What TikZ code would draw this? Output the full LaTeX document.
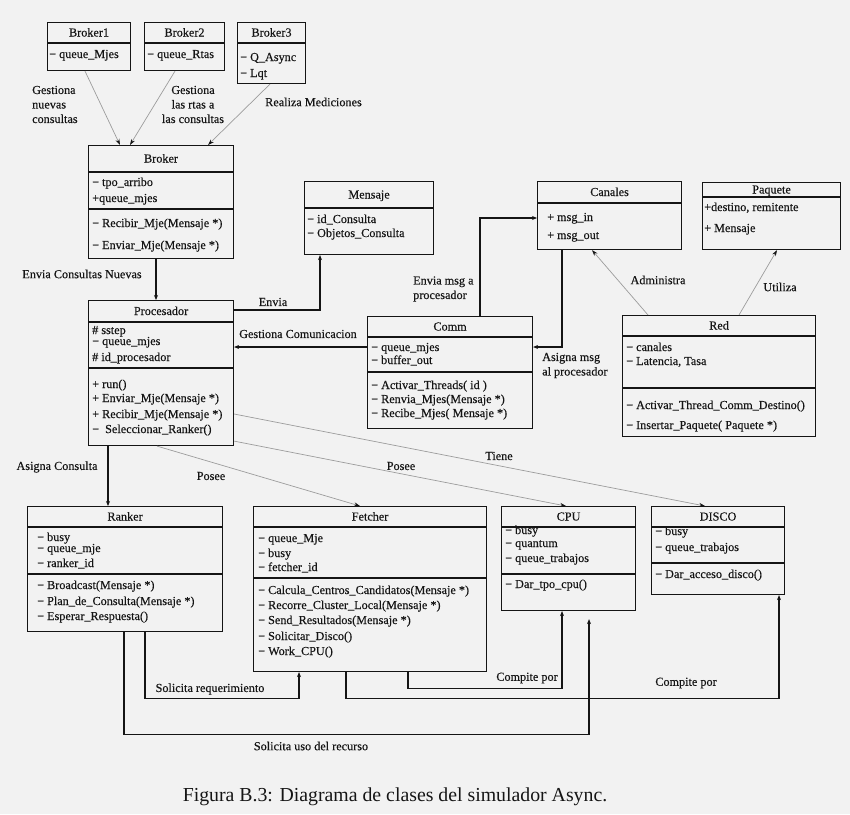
\documentclass[tikz,border=0pt]{standalone}
\usepackage{fontspec}
\setmainfont{Liberation Serif}
\newfontfamily\diafont{Liberation Serif}[FakeBold=0.3]
\usepackage{tikz}
\usetikzlibrary{arrows.meta, calc}
\definecolor{ink}{HTML}{151515}
\definecolor{paper}{HTML}{F2F2F2}
\definecolor{wire}{HTML}{9C9C9C}

% class box: name, x, y, width, height, first rule, title
\newcommand{\cls}[7]{%
  \node[box, minimum width=#4pt, minimum height=#5pt] (#1) at (#2,#3) {};
  \node[ttl] (#1-t) at ($(#1.north)+(0,{#6/2+1})$) {#7};
  \draw[rule] ($(#1.north west)+(0,#6)$) -- ($(#1.north east)+(0,#6)$);}
\newcommand{\sep}[2]{%
  \draw[rule] ($(#1.north west)+(0,#2)$) -- ($(#1.north east)+(0,#2)$);}
\newcommand{\rows}[3]{%
  \foreach \dy/\txt in {#3}{
    \node[row] (#1-r\dy) at ($(#1.north west)+(#2,\dy)$) {\txt};
  }}

\begin{document}
\begin{tikzpicture}[x=1pt, y=-1pt,
  box/.style={draw=ink, line width=1.1pt, inner sep=0pt, anchor=north west},
  rule/.style={draw=ink, line width=1.1pt},
  ttl/.style={font=\diafont\fontsize{12.2}{13}\selectfont, text=ink, inner sep=0pt,
    text height=8pt, text depth=2pt},
  row/.style={ttl, anchor=west},
  lbl/.style={font=\diafont\fontsize{12.2}{14.5}\selectfont, text=ink, inner sep=0pt},
  flow/.style={draw=ink, line width=1.1pt, -{Stealth[length=5pt, width=4pt]}},
  thin/.style={draw=wire, line width=0.7pt, -{Stealth[length=6pt, width=4pt, ink]}}]

  \fill[paper] (0,0) rectangle (850,814);
  \useasboundingbox (0,0) rectangle (850,814);

  % classes
  \cls{broker1}{47}{22}{83}{48}{21}{Broker1}
  \rows{broker1}{2}{33/{− queue\_Mjes}}
  \cls{broker2}{144}{22}{80}{48}{21}{Broker2}
  \rows{broker2}{3}{33/{− queue\_Rtas}}
  \cls{broker3}{237}{22}{68}{61}{21}{Broker3}
  \rows{broker3}{3}{36/{− Q\_Async}, 52/{− Lqt}}

  \cls{broker}{88}{145}{145}{113}{27}{Broker}
  \sep{broker}{64}
  \rows{broker}{4}{38/{− tpo\_arribo}, 54/{+queue\_mjes},
    79/{− Recibir\_Mje(Mensaje *)}, 101/{− Enviar\_Mje(Mensaje *)}}

  \cls{mensaje}{304}{181}{129}{73}{27}{Mensaje}
  \rows{mensaje}{3}{39/{− id\_Consulta}, 53/{− Objetos\_Consulta}}

  \cls{canales}{537}{181}{144}{68}{22}{Canales}
  \rows{canales}{10}{37/{+ msg\_in}, 55/{+ msg\_out}}

  \cls{paquete}{702}{182}{138}{67}{15}{Paquete}
  \rows{paquete}{2}{26/{+destino, remitente}, 47/{+ Mensaje}}

  \cls{procesador}{88}{300}{145}{145}{22}{Procesador}
  \sep{procesador}{68}
  \rows{procesador}{4}{31/{\# sstep}, 42/{− queue\_mjes}, 58/{\# id\_procesador},
    85/{+ run()}, 99/{+ Enviar\_Mje(Mensaje *)}, 115/{+ Recibir\_Mje(Mensaje *)},
    130/{−\enspace Seleccionar\_Ranker()}}

  \cls{comm}{367}{316}{165}{112}{21}{Comm}
  \sep{comm}{56}
  \rows{comm}{4}{32/{− queue\_mjes}, 45/{− buffer\_out},
    70/{− Activar\_Threads( id )}, 84/{− Renvia\_Mjes(Mensaje *)},
    98/{− Recibe\_Mjes( Mensaje *)}}

  \cls{red}{622}{315}{193}{121}{21}{Red}
  \sep{red}{73}
  \rows{red}{4}{33/{− canales}, 47/{− Latencia, Tasa},
    91/{− Activar\_Thread\_Comm\_Destino()}, 111/{− Insertar\_Paquete( Paquete *)}}

  \cls{ranker}{27}{506}{195}{125}{21}{Ranker}
  \sep{ranker}{68}
  \rows{ranker}{10}{32/{− busy}, 43/{− queue\_mje}, 58/{− ranker\_id},
    80/{− Broadcast(Mensaje *)}, 96/{− Plan\_de\_Consulta(Mensaje *)},
    111/{− Esperar\_Respuesta()}}

  \cls{fetcher}{253}{506}{233}{165}{21}{Fetcher}
  \sep{fetcher}{72}
  \rows{fetcher}{5}{33/{− queue\_Mje}, 48/{− busy}, 62/{− fetcher\_id},
    85/{− Calcula\_Centros\_Candidatos(Mensaje *)},
    100/{− Recorre\_Cluster\_Local(Mensaje *)},
    115/{− Send\_Resultados(Mensaje *)}, 131/{− Solicitar\_Disco()},
    146/{− Work\_CPU()}}

  \cls{cpu}{501}{506}{134}{104}{21}{CPU}
  \sep{cpu}{68}
  \rows{cpu}{4}{25/{− busy}, 38/{− quantum}, 53/{− queue\_trabajos},
    79/{− Dar\_tpo\_cpu()}}

  \cls{disco}{651}{506}{133}{88}{21}{DISCO}
  \sep{disco}{57}
  \rows{disco}{4}{26/{− busy}, 42/{− queue\_trabajos}, 69/{− Dar\_acceso\_disco()}}

  % associations
  \draw[thin] ($(broker1.south west)+(38,0)$) -- ($(broker.north west)+(32,0)$);
  \draw[thin] ($(broker2.south west)+(31,0)$) -- ($(broker.north west)+(42,0)$);
  \draw[thin] ($(broker3.south west)+(33,0)$) -- ($(broker.north west)+(120,0)$);
  \draw[flow] ($(broker.south west)+(68,0)$) -- ($(procesador.north west)+(68,0)$);
  \draw[flow] ($(procesador.north east)+(0,10)$) -| ($(mensaje.south west)+(16,0)$);
  \draw[flow] ($(comm.north west)+(113,0)$) |- ($(canales.north west)+(0,37)$);
  \draw[flow] ($(canales.south west)+(25,0)$) |- ($(comm.north east)+(0,31)$);
  \draw[flow] ($(comm.north west)+(0,31)$) -- ($(procesador.north east)+(0,47)$);
  \draw[flow] ($(procesador.south west)+(20,0)$) -- ($(ranker.north west)+(81,0)$);
  \draw[thin] ($(red.north west)+(26,0)$) -- ($(canales.south west)+(55,0)$);
  \draw[thin] ($(red.north west)+(117,0)$) -- ($(paquete.south west)+(75,0)$);
  \draw[thin] ($(procesador.south west)+(69,0)$) -- ($(fetcher.north west)+(107,0)$);
  \draw[thin] ($(procesador.south east)+(0,-5)$) -- ($(cpu.north west)+(65,0)$);
  \draw[thin] ($(procesador.north east)+(0,114)$) -- ($(disco.north west)+(54,0)$);
  \draw[flow] ($(ranker.south west)+(118,0)$) -- ++(0,66) -| ($(fetcher.south west)+(46,0)$);
  \draw[flow] ($(ranker.south west)+(97,0)$) -- ++(0,102) -| ($(cpu.south west)+(88,8)$);
  \draw[flow] ($(fetcher.south west)+(155,0)$) -- ++(0,16) -| ($(cpu.south west)+(61,0)$);
  \draw[flow] ($(fetcher.south west)+(93,0)$) -- ++(0,26) -| ($(disco.south west)+(128,0)$);

  % labels
  \node[lbl, anchor=west, align=left] (l-nuevas) at (32,104.5) {Gestiona\\nuevas\\consultas};
  \node[lbl, align=center] (l-rtas) at (193,104.5) {Gestiona\\las rtas a\\las consultas};
  \node[lbl, anchor=west] (l-medic) at (265,102) {Realiza Mediciones};
  \node[lbl] (l-nuevos) at (82,274) {Envia Consultas Nuevas};
  \node[lbl] (l-envia) at (273,302) {Envia};
  \node[lbl] (l-gest) at (298,334) {Gestiona Comunicacion};
  \node[lbl, anchor=west, align=left] (l-msg) at (413,289) {Envia msg a\\procesador};
  \node[lbl, anchor=west, align=left] (l-asig) at (542,365.5) {Asigna msg\\al procesador};
  \node[lbl] (l-admin) at (658,280) {Administra};
  \node[lbl] (l-util) at (780,287) {Utiliza};
  \node[lbl] (l-consulta) at (57,467) {Asigna Consulta};
  \node[lbl] (l-posee1) at (211,476) {Posee};
  \node[lbl] (l-posee2) at (401,466) {Posee};
  \node[lbl] (l-tiene) at (499,456) {Tiene};
  \node[lbl] (l-req) at (210,689) {Solicita requerimiento};
  \node[lbl] (l-comp1) at (527,678) {Compite por};
  \node[lbl] (l-comp2) at (686,683) {Compite por};
  \node[lbl] (l-uso) at (311,746) {Solicita uso del recurso};
  \node[font=\fontsize{19.8}{22}\selectfont, text=ink, inner sep=0pt] (caption) at (395,797)
    {Figura B.3: Diagrama de clases del simulador Async.};
\end{tikzpicture}
\end{document}
